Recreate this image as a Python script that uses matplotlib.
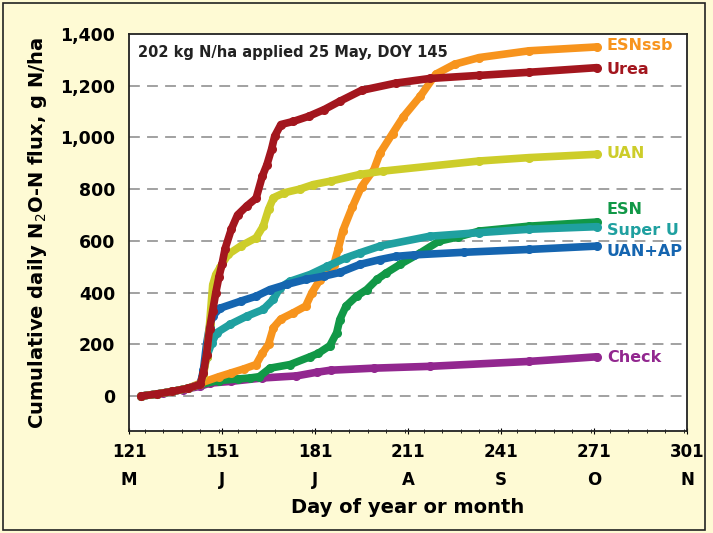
#!/usr/bin/env python3
"""Cumulative daily N2O-N flux by N source (recreation)"""

import matplotlib
matplotlib.use('Agg')
import matplotlib.pyplot as plt
from matplotlib.patches import Rectangle
from matplotlib.ticker import FuncFormatter, MultipleLocator

# ===== Data =====
urea_day = [125, 130, 135, 140, 144, 145, 146, 147, 148, 149, 150, 151, 152, 154, 156, 159, 162, 164,
            165.5, 167, 168, 170, 174, 179, 184, 189, 196, 207, 218, 234, 250, 272]
urea_val = [0, 8, 18, 30, 45, 90, 160, 260, 330, 400, 460, 510, 570, 645, 700, 735, 765, 850,
            895, 955, 1005, 1050, 1062, 1082, 1108, 1140, 1182, 1210, 1228, 1240, 1252, 1270]

essb_day = [125, 130, 135, 140, 144, 150, 154, 158, 162, 164, 166, 167.6, 170, 174, 178, 180, 182.6,
            187, 188.5, 190, 193, 196, 200, 202, 206, 209.5, 215, 220, 226, 234, 250, 272]
essb_val = [0, 8, 18, 30, 50, 75, 90, 105, 122, 165, 200, 265, 298, 322, 348, 400, 450,
            505, 570, 640, 730, 810, 876, 940, 1015, 1080, 1160, 1245, 1283, 1309, 1335, 1350]

uan_day = [125, 130, 135, 140, 144, 145, 146, 147, 148, 149, 150.5, 153, 157, 162, 164.3, 166, 167.6,
           171, 176, 180.5, 186, 195.5, 203, 234, 250, 272]
uan_val = [0, 8, 18, 30, 45, 80, 150, 280, 430, 470, 500, 548, 580, 612, 657, 722, 767,
           786, 800, 818, 831, 857, 870, 909, 922, 935]

esn_day = [125, 130, 135, 140, 144, 150, 156, 160, 163, 166.5, 173, 179.4, 182, 185.8, 188, 189, 191,
           194.4, 197.7, 201, 204, 208.4, 215, 221, 227, 234, 250, 272]
esn_val = [0, 8, 18, 30, 45, 60, 66, 70, 75, 108, 122, 152, 165, 195, 245, 296, 348,
           386, 412, 451, 476, 509, 554, 599, 615, 638, 657, 673]

superu_day = [125, 130, 135, 140, 144, 145, 146, 147.7, 149.3, 153.6, 159, 164.3, 167.6, 169.7, 173,
              179.4, 185, 191, 195.5, 202, 218, 234, 250, 272]
superu_val = [0, 8, 18, 30, 45, 90, 150, 206, 245, 277, 309, 335, 374, 419, 444,
              470, 502, 535, 554, 580, 618, 632, 645, 655]

uanap_day = [125, 130, 135, 140, 144, 145, 146, 147, 148, 150.4, 157, 162, 166.5, 172, 178, 184, 189,
             195.5, 202, 207, 213, 229, 250, 272]
uanap_val = [0, 8, 18, 30, 45, 100, 200, 270, 310, 340, 367, 386, 412, 432, 451, 464, 478,
             509, 528, 540, 546, 556, 567, 580]

check_day = [125, 132, 138.5, 144, 147, 154, 164, 175, 181.5, 186, 200, 218, 250, 272]
check_val = [0, 12, 25, 38, 50, 57, 70, 78, 92, 100, 108, 115, 134, 152]

series = [
    ('Check', check_day, check_val, '#92278F', 357),
    ('ESN', esn_day, esn_val, '#119847', 210),
    ('ESNssb', essb_day, essb_val, '#F7941D', 46),
    ('Super U', superu_day, superu_val, '#1FA0A0', 231),
    ('UAN+AP', uanap_day, uanap_val, '#1565B0', 252),
    ('UAN', uan_day, uan_val, '#CDCD2A', 154),
    ('Urea', urea_day, urea_val, '#A3161E', 69),
]

xtick_pos = [121, 151, 181, 211, 241, 271, 301]
xtick_month = ['M', 'J', 'J', 'A', 'S', 'O', 'N']

BG = '#FEFAD4'
W, H = 713, 533

fig = plt.figure(figsize=(W / 100, H / 100), dpi=100, facecolor=BG)
ax = fig.add_axes([129 / W, 1 - 431 / H, (687 - 129) / W, (431 - 34) / H])
ax.set_facecolor('white')

# outer frame
fig.patches.append(Rectangle((3 / W, 3 / H), (705 - 3) / W, (H - 6) / H, transform=fig.transFigure,
                             fill=False, edgecolor='#222222', linewidth=1.2))

for y in range(0, 1400, 200):
    ax.axhline(y, color='#9a9a9a', linewidth=1.3, linestyle=(0, (6, 4)), zorder=1)

for name, d, v, c, label_y in series:
    ax.plot(d, v, color=c, linewidth=5.5, solid_capstyle='round', solid_joinstyle='round', zorder=3)
    ax.plot(d, v, 'o', color=c, markersize=5.5, zorder=3)
    ax.text(607 / W, 1 - label_y / H, name, transform=fig.transFigure, color=c,
            fontsize=11.5, fontweight='bold', va='center', ha='left')

ax.text(138 / W, 1 - 53 / H, '202 kg N/ha applied 25 May, DOY 145', transform=fig.transFigure,
        fontsize=10.5, fontweight='bold', color='#222222', va='center', ha='left')

ax.set_xlim(121, 301)
ax.set_ylim(-135, 1400)
ax.set_yticks(range(0, 1401, 200))
ax.yaxis.set_major_formatter(FuncFormatter(lambda y, p: f'{int(y):,}'))
ax.tick_params(axis='y', length=0, pad=10, labelsize=12.5)
for lbl in ax.get_yticklabels():
    lbl.set_fontweight('bold')

ax.set_xticks(xtick_pos)
ax.set_xticklabels([f'{p}\n{m}' for p, m in zip(xtick_pos, xtick_month)],
                   fontsize=12, fontweight='bold', linespacing=1.75)
ax.xaxis.set_minor_locator(MultipleLocator(6))
ax.tick_params(axis='x', which='major', length=5, pad=6, direction='inout')
ax.tick_params(axis='x', which='minor', length=3, direction='inout')

for s in ax.spines.values():
    s.set_linewidth(1.3)
    s.set_color('#222222')

ax.set_ylabel('Cumulative daily N$_2$O-N flux, g N/ha', fontsize=14, fontweight='bold', labelpad=8)
ax.set_xlabel('Day of year or month', fontsize=14, fontweight='bold', labelpad=6)

plt.savefig('out.png', dpi=100, facecolor=BG)
